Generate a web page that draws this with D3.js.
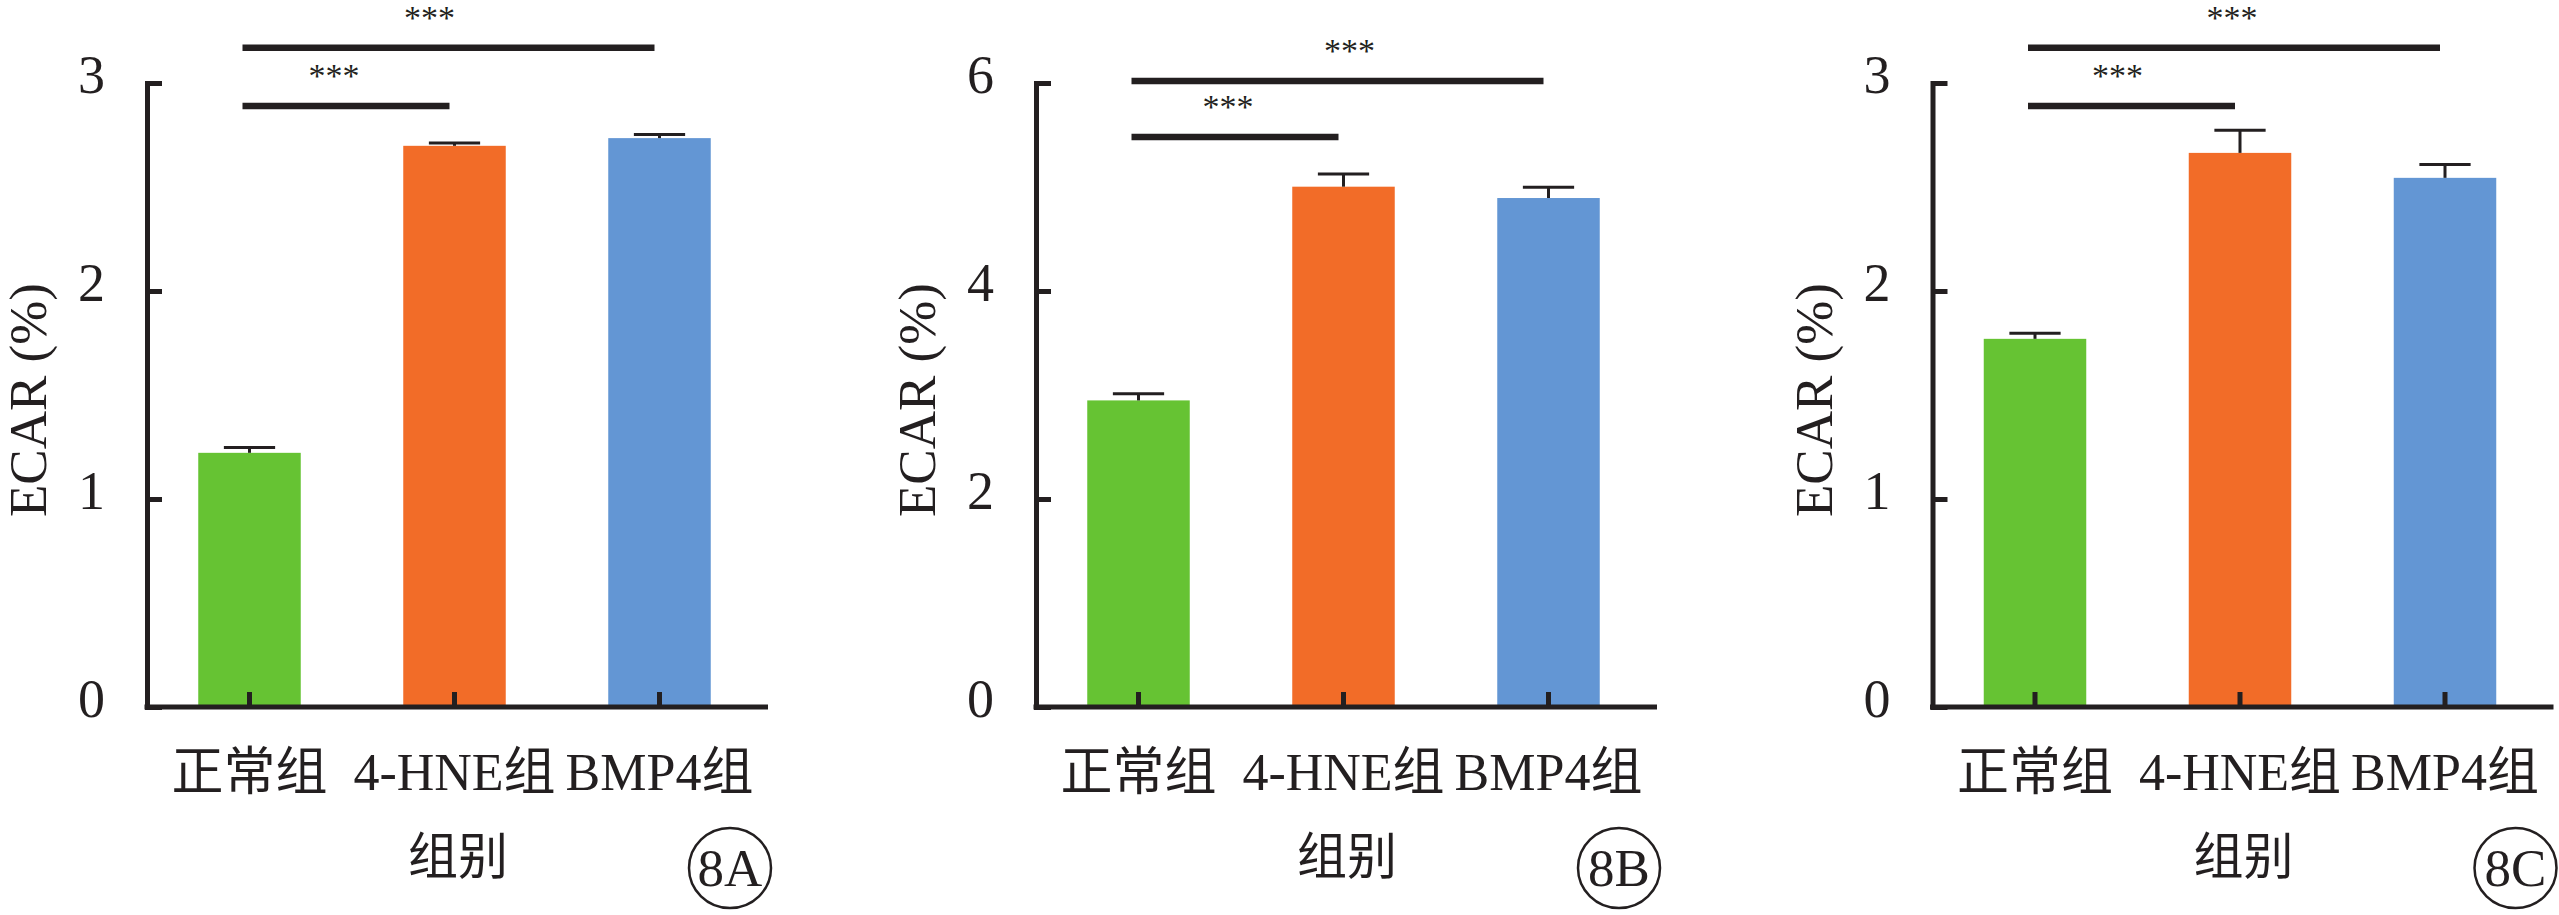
<!DOCTYPE html>
<html>
<head>
<meta charset="utf-8">
<script src="https://cdn.jsdelivr.net/npm/d3@7/dist/d3.min.js"></script>
<style>
  html, body { margin: 0; padding: 0; background: #ffffff; }
  svg { display: block; }
  text { font-family: "Liberation Serif", "Times New Roman", "Noto Sans CJK SC", serif; fill: #231f20; }
</style>
</head>
<body>
<svg id="chart" width="2559" height="915"></svg>
<script>
// ---------------- data ----------------
const categories = ["正常组", "4-HNE组", "BMP4组"];
const colors = ["#66c333", "#f26c28", "#6396d4"];
const panelLabels = ["8A", "8B", "8C"];
const yTitle = "ECAR (%)";
const xTitle = "组别";

const valuesA = [1.222, 2.698, 2.735];
const errorsA = [0.025, 0.013, 0.018];
const valuesB = [2.948, 5.003, 4.894];
const errorsB = [0.064, 0.122, 0.103];
const valuesC = [1.770, 2.664, 2.544];
const errorsC = [0.027, 0.109, 0.064];

const yTicksA = [0, 1, 2, 3];
const yTicksB = [0, 2, 4, 6];
const yTicksC = [0, 1, 2, 3];

const sigPairs = [[0, 1], [0, 2]];
const sigLabels = ["***", "***"];
const sigLevelsA = [2.89, 3.17];
const sigLevelsB = [5.48, 6.02];
const sigLevelsC = [2.89, 3.17];

// ---------------- layout ----------------
const panels = [
  { axisX: 147,    values: valuesA, errors: errorsA, ticks: yTicksA, levels: sigLevelsA, label: panelLabels[0], starShift: [-12, -19] },
  { axisX: 1036,   values: valuesB, errors: errorsB, ticks: yTicksB, levels: sigLevelsB, label: panelLabels[1], starShift: [-7, 12] },
  { axisX: 1932.5, values: valuesC, errors: errorsC, ticks: yTicksC, levels: sigLevelsC, label: panelLabels[2], starShift: [-14, -2] }
];
const yTop = 83, yBase = 707;
const ink = "#231f20";

const svg = d3.select("#chart");

panels.forEach(p => {
  const g = svg.append("g");
  const x = d3.scaleBand().domain(categories)
    .range([p.axisX, p.axisX + 615]).paddingInner(0.5).paddingOuter(0.25);
  const yMax = d3.max(p.ticks);
  const y = d3.scaleLinear().domain([0, yMax]).range([yBase, yTop]);
  const bw = x.bandwidth();

  // bars
  g.selectAll("rect.bar").data(categories).join("rect")
    .attr("class", "bar")
    .attr("x", c => x(c))
    .attr("y", (c, i) => y(p.values[i]))
    .attr("width", bw)
    .attr("height", (c, i) => yBase - y(p.values[i]))
    .attr("fill", (c, i) => colors[i]);

  // error bars
  g.selectAll("line.err").data(categories).join("line")
    .attr("class", "err")
    .attr("x1", c => x(c) + bw / 2).attr("x2", c => x(c) + bw / 2)
    .attr("y1", (c, i) => y(p.values[i]))
    .attr("y2", (c, i) => y(p.values[i] + p.errors[i]))
    .attr("stroke", ink).attr("stroke-width", 3);
  g.selectAll("line.cap").data(categories).join("line")
    .attr("class", "cap")
    .attr("x1", c => x(c) + bw / 4).attr("x2", c => x(c) + bw * 3 / 4)
    .attr("y1", (c, i) => y(p.values[i] + p.errors[i]))
    .attr("y2", (c, i) => y(p.values[i] + p.errors[i]))
    .attr("stroke", ink).attr("stroke-width", 3);

  // y axis
  const yAxis = g.append("g")
    .attr("transform", `translate(${p.axisX},0)`)
    .call(d3.axisLeft(y).tickValues(p.ticks).tickFormat(d3.format("d"))
      .tickSizeInner(-15).tickSizeOuter(0).tickPadding(42));
  yAxis.select(".domain").attr("stroke", ink).attr("stroke-width", 5).attr("stroke-linecap", "square");
  yAxis.selectAll(".tick line").attr("stroke", ink).attr("stroke-width", 5);
  yAxis.selectAll(".tick text")
    .attr("font-size", 54).attr("dy", "0.18em")
    .attr("font-family", "Liberation Serif, Times New Roman, serif").attr("fill", ink);

  // x axis
  const xAxis = g.append("g")
    .attr("transform", `translate(0,${yBase})`)
    .call(d3.axisBottom(x).tickSizeInner(-15).tickSizeOuter(0).tickPadding(83));
  xAxis.select(".domain").remove();
  xAxis.selectAll(".tick line").attr("stroke", ink).attr("stroke-width", 5);
  xAxis.selectAll(".tick text")
    .attr("font-size", 52).attr("dy", "0")
    .attr("font-family", "Liberation Serif, Times New Roman, Noto Sans CJK SC, serif").attr("fill", ink);
  g.append("line")
    .attr("x1", x.range()[0] - 2.5).attr("x2", x.range()[1] + 6)
    .attr("y1", yBase).attr("y2", yBase)
    .attr("stroke", ink).attr("stroke-width", 5);

  // significance brackets
  sigPairs.forEach((pair, k) => {
    const x1 = x(categories[pair[0]]) + bw / 2 - 7;
    const x2 = x(categories[pair[1]]) + bw / 2 - 5;
    const ly = y(p.levels[k]);
    g.append("line")
      .attr("x1", x1).attr("x2", x2).attr("y1", ly).attr("y2", ly)
      .attr("stroke", ink).attr("stroke-width", 6.5);
    g.append("text")
      .attr("x", (x1 + x2) / 2 + p.starShift[k])
      .attr("y", ly - 19)
      .attr("text-anchor", "middle")
      .attr("font-size", 34)
      .attr("font-family", "Liberation Sans, Arial, sans-serif")
      .text(sigLabels[k]);
  });

  // y title
  g.append("text")
    .attr("transform", `translate(${p.axisX - 101},400) rotate(-90)`)
    .attr("text-anchor", "middle")
    .attr("font-size", 53)
    .text(yTitle);

  // x title
  g.append("text")
    .attr("x", p.axisX + 311).attr("y", 874)
    .attr("text-anchor", "middle")
    .attr("font-size", 50)
    .attr("font-family", "Noto Sans CJK SC, sans-serif")
    .text(xTitle);

  // panel label
  g.append("ellipse")
    .attr("cx", p.axisX + 583).attr("cy", 868).attr("rx", 41).attr("ry", 40)
    .attr("fill", "none").attr("stroke", ink).attr("stroke-width", 2.5);
  g.append("text")
    .attr("x", p.axisX + 583).attr("y", 886)
    .attr("text-anchor", "middle")
    .attr("font-size", 53)
    .text(p.label);
});
</script>
</body>
</html>
